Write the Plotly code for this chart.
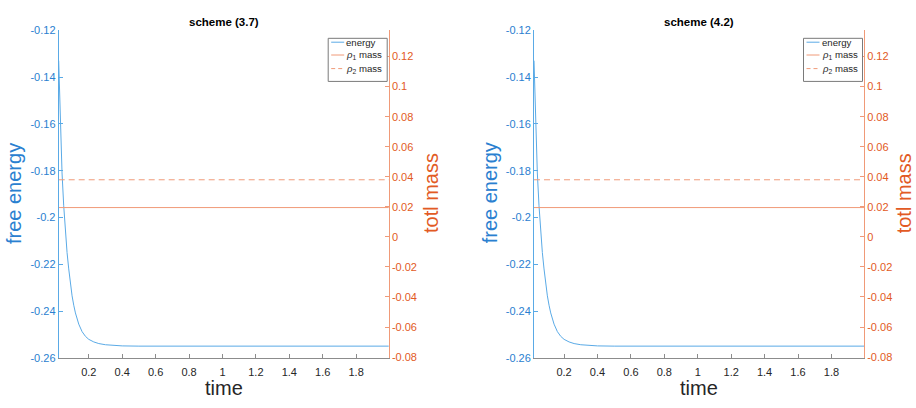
import plotly.graph_objects as go

# ---------------- data ----------------
time = [0.02, 0.03, 0.04, 0.05, 0.06, 0.07, 0.08, 0.09, 0.10, 0.11, 0.12,
        0.14, 0.16, 0.18, 0.20, 0.23, 0.26, 0.30, 0.35, 0.40, 0.50, 0.60,
        0.80, 1.00, 1.20, 1.40, 1.60, 1.80, 2.00]
energy_37 = [-0.133, -0.163, -0.181, -0.195, -0.206, -0.215, -0.222, -0.2285,
             -0.2335, -0.2375, -0.2408, -0.2456, -0.2488, -0.2508, -0.2521,
             -0.2532, -0.2539, -0.2544, -0.2547, -0.2549, -0.2550, -0.2550,
             -0.2550, -0.2550, -0.2550, -0.2550, -0.2550, -0.2550, -0.2550]
energy_42 = [-0.133, -0.163, -0.181, -0.195, -0.206, -0.215, -0.222, -0.2285,
             -0.2335, -0.2375, -0.2408, -0.2456, -0.2488, -0.2508, -0.2521,
             -0.2532, -0.2539, -0.2544, -0.2547, -0.2549, -0.2550, -0.2550,
             -0.2550, -0.2550, -0.2550, -0.2550, -0.2550, -0.2550, -0.2550]
mass_time = [0.02, 2.00]
rho1_mass_37 = [0.0195, 0.0195]
rho2_mass_37 = [0.0380, 0.0380]
rho1_mass_42 = [0.0195, 0.0195]
rho2_mass_42 = [0.0380, 0.0380]

panel_titles = ["scheme (3.7)", "scheme (4.2)"]
legend_names = ["energy", "<i>ρ</i><sub>1</sub> mass", "<i>ρ</i><sub>2</sub> mass"]

time_tickvals = [0.2, 0.4, 0.6, 0.8, 1.0, 1.2, 1.4, 1.6, 1.8]
time_ticktext = ["0.2", "0.4", "0.6", "0.8", "1", "1.2", "1.4", "1.6", "1.8"]
energy_tickvals = [-0.26, -0.24, -0.22, -0.20, -0.18, -0.16, -0.14, -0.12]
energy_ticktext = ["-0.26", "-0.24", "-0.22", "-0.2", "-0.18", "-0.16", "-0.14", "-0.12"]
mass_tickvals = [-0.08, -0.06, -0.04, -0.02, 0.0, 0.02, 0.04, 0.06, 0.08, 0.10, 0.12]
mass_ticktext = ["-0.08", "-0.06", "-0.04", "-0.02", "0", "0.02", "0.04", "0.06", "0.08", "0.1", "0.12"]

# ---------------- style ----------------
W, H = 916, 408
FONT = "Liberation Sans, Arial, Helvetica, sans-serif"
BLUE_TXT = "#2a80d0"
BLUE_LINE = "#5aaae6"
OR_TXT = "#e25a24"
OR_LINE = "#f09a78"
GRAY = "#8c8c8c"

panels = [
    dict(x0=58.7, x1=388.7, label_off=43, energy=energy_37, r1=rho1_mass_37, r2=rho2_mass_37),
    dict(x0=534.0, x1=864.0, label_off=40, energy=energy_42, r1=rho1_mass_42, r2=rho2_mass_42),
]
y_top, y_bot = 25.0, 362.5


def px(x):
    return x / W


def py(y):
    return 1 - y / H


fig = go.Figure()
layout = dict(
    width=W, height=H, margin=dict(l=0, r=0, t=0, b=0),
    paper_bgcolor="white", plot_bgcolor="white",
    font=dict(family=FONT, size=11, color="#262626"),
    showlegend=False,
    annotations=[], shapes=[],
)

line_styles = [dict(color=BLUE_LINE, width=1),
               dict(color=OR_LINE, width=1),
               dict(color=OR_LINE, width=1, dash="4px,3px")]

for i, p in enumerate(panels):
    xa = "x" if i == 0 else "x2"
    ya = "y" if i == 0 else "y3"
    yb = "y2" if i == 0 else "y4"
    xdom = [px(p["x0"]), px(p["x1"])]
    ydom = [py(y_bot), py(y_top)]

    fig.add_trace(go.Scatter(x=time, y=p["energy"], mode="lines", name=legend_names[0],
                             line=dict(color=BLUE_LINE, width=1), xaxis=xa, yaxis=ya))
    fig.add_trace(go.Scatter(x=mass_time, y=p["r1"], mode="lines", name=legend_names[1],
                             line=dict(color=OR_LINE, width=1), xaxis=xa, yaxis=yb))
    fig.add_trace(go.Scatter(x=mass_time, y=p["r2"], mode="lines", name=legend_names[2],
                             line=dict(color=OR_LINE, width=1, dash="6px,4px"),
                             xaxis=xa, yaxis=yb))

    xkey = "xaxis" if i == 0 else "xaxis2"
    ykey = "yaxis" if i == 0 else "yaxis3"
    ykey2 = "yaxis2" if i == 0 else "yaxis4"
    layout[xkey] = dict(domain=xdom, range=[0.02, 1.995], anchor=ya,
                        showline=True, linecolor=GRAY, linewidth=1,
                        ticks="inside", ticklen=4, tickcolor=GRAY,
                        tickvals=time_tickvals, ticktext=time_ticktext,
                        tickfont=dict(size=11, color="#262626"),
                        ticklabelstandoff=4,
                        showgrid=False, zeroline=False)
    layout[ykey] = dict(domain=ydom, range=[-0.26, -0.12], anchor=xa,
                        showline=True, linecolor=BLUE_LINE, linewidth=1,
                        ticks="inside", ticklen=4, tickcolor=BLUE_LINE,
                        tickvals=energy_tickvals, ticktext=energy_ticktext,
                        tickfont=dict(size=11, color=BLUE_TXT),
                        showgrid=False, zeroline=False)
    layout[ykey2] = dict(range=[-0.0805, 0.1375], anchor=xa, overlaying=ya, side="right",
                         showline=True, linecolor=OR_LINE, linewidth=1,
                         ticks="inside", ticklen=4, tickcolor=OR_LINE,
                         tickvals=mass_tickvals, ticktext=mass_ticktext,
                         tickfont=dict(size=11, color=OR_TXT),
                         showgrid=False, zeroline=False)

    # compact legend box (MATLAB style) in the top-right corner of the axes
    bx1 = p["x1"] - 1.5
    bx0 = bx1 - 59
    by0, by1 = 33.3, 77.7
    layout["shapes"].append(dict(type="rect", xref="paper", yref="paper",
                                 x0=px(bx0), x1=px(bx1), y0=py(by1), y1=py(by0),
                                 line=dict(color="#7a7a7a", width=1), fillcolor="white",
                                 layer="above"))
    row_y = [37.3, 50.5, 64.5]
    for k in range(3):
        layout["shapes"].append(dict(type="line", xref="paper", yref="paper",
                                     x0=px(bx0 + 3), x1=px(bx0 + 16),
                                     y0=py(row_y[k]), y1=py(row_y[k]),
                                     line=line_styles[k], layer="above"))
        layout["annotations"].append(dict(text=legend_names[k], x=px(bx0 + 17), y=py(row_y[k]),
                                          xref="paper", yref="paper", xanchor="left",
                                          yanchor="middle", showarrow=False, borderpad=0,
                                          font=dict(size=9.6, color="#262626")))

    cx = (p["x0"] + p["x1"]) / 2
    layout["annotations"] += [
        dict(text="<b>%s</b>" % panel_titles[i],
             x=px(cx), y=py(16), xref="paper", yref="paper",
             xanchor="center", yanchor="middle", showarrow=False,
             font=dict(size=11.5, color="#000000")),
        dict(text="time", x=px(cx), y=py(394), xref="paper", yref="paper",
             xanchor="center", yanchor="middle", showarrow=False,
             font=dict(size=20, color="#262626")),
        dict(text="free energy", x=px(p["x0"] - 44), y=py(193), xref="paper", yref="paper",
             xanchor="center", yanchor="middle", textangle=-90, showarrow=False,
             font=dict(size=20, color=BLUE_TXT)),
        dict(text="totl mass", x=px(p["x1"] + p["label_off"]), y=py(193),
             xref="paper", yref="paper",
             xanchor="center", yanchor="middle", textangle=-90, showarrow=False,
             font=dict(size=20, color=OR_TXT)),
    ]

fig.update_layout(**layout)
fig.write_html("out.html")
